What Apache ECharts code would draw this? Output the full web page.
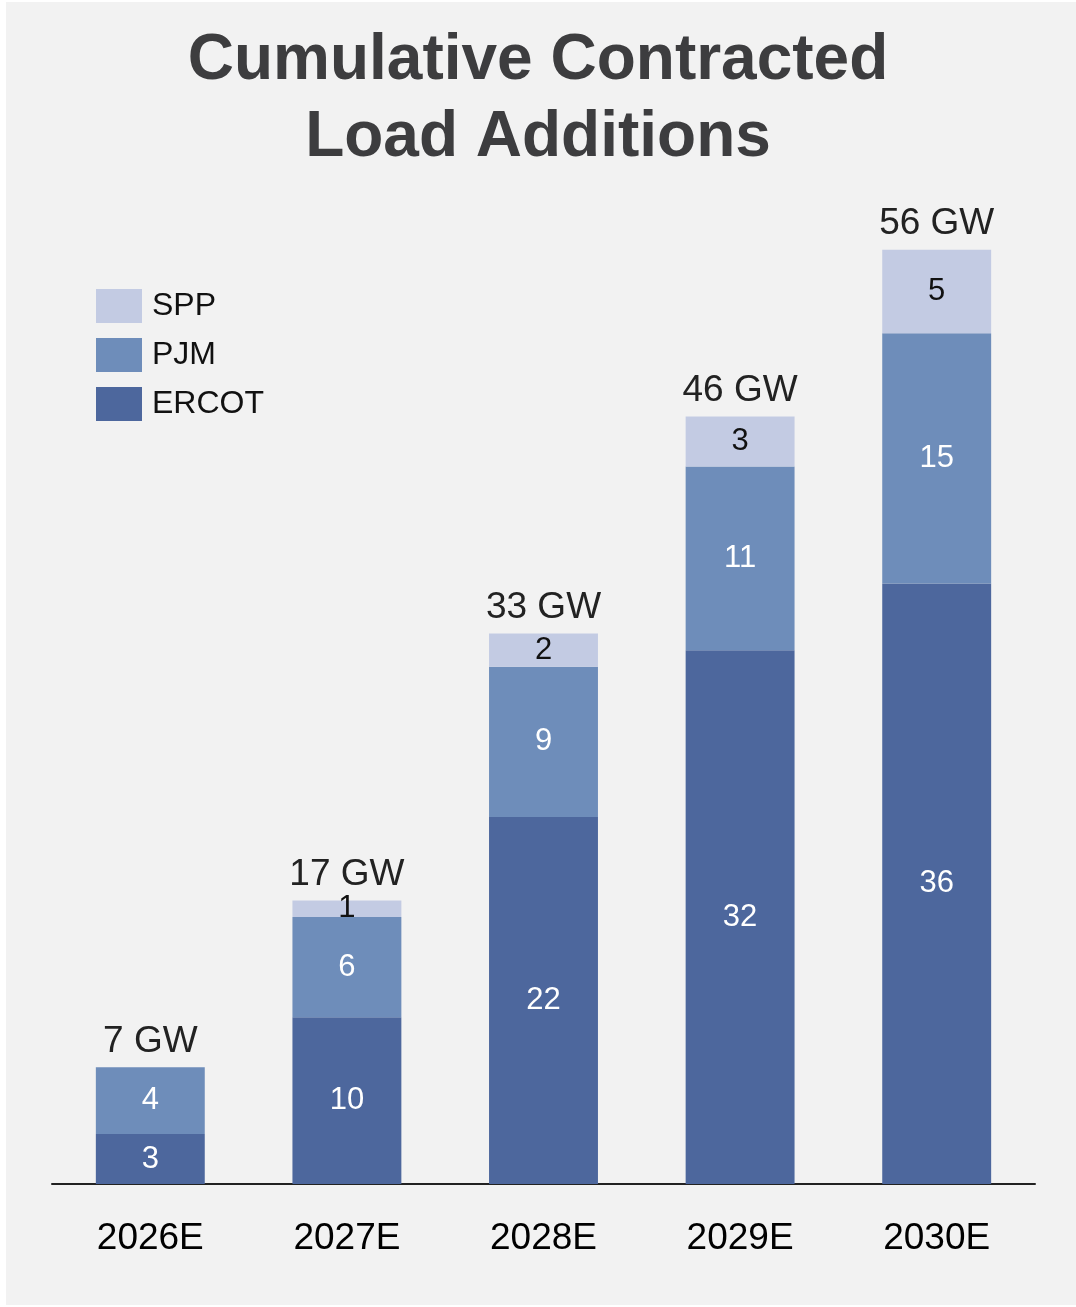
<!DOCTYPE html>
<html>
<head>
<meta charset="utf-8">
<title>Cumulative Contracted Load Additions</title>
<script src="https://cdn.jsdelivr.net/npm/echarts@6/dist/echarts.min.js"></script>
<style>
  html, body { margin: 0; padding: 0; background: #ffffff; }
  #panel { position: absolute; left: 6px; top: 2px; width: 1070px; height: 1303px; background: #f2f2f2; }
  #chart { position: absolute; left: 0; top: 0; width: 1076px; height: 1307px; }
</style>
</head>
<body>
<div id="panel"></div>
<div id="chart"></div>
<script>
// Contracted load (GW) by market, cumulative by year
const years = ['2026E', '2027E', '2028E', '2029E', '2030E'];
const ercot = [3, 10, 22, 32, 36];
const pjm = [4, 6, 9, 11, 15];
const spp = ['-', 1, 2, 3, 5];
const totals = [7, 17, 33, 46, 56];

const FONT = "'Liberation Sans', Arial, Helvetica, sans-serif";
const COLORS = { ERCOT: '#4d679d', PJM: '#6e8dba', SPP: '#c3cbe3' };

function segment(name, data, labelColor) {
  return {
    name: name,
    type: 'bar',
    stack: 'load',
    barWidth: '55.4%',
    data: data,
    itemStyle: { color: COLORS[name] },
    label: {
      show: true,
      position: 'inside',
      color: labelColor,
      fontFamily: FONT,
      fontSize: 31,
      formatter: p => (p.value === '-' || p.value === 0) ? '' : String(p.value)
    },
    emphasis: { disabled: true }
  };
}

const chart = echarts.init(document.getElementById('chart'), null, { renderer: 'canvas' });

chart.setOption({
  backgroundColor: 'transparent',
  animation: false,
  title: {
    text: 'Cumulative Contracted\nLoad Additions',
    left: 'center',
    top: 18,
    textStyle: {
      fontFamily: FONT,
      fontSize: 64,
      fontWeight: 'bold',
      color: '#3d3d3f',
      lineHeight: 77
    }
  },
  legend: {
    orient: 'vertical',
    left: 96,
    top: 289,
    padding: 0,
    itemWidth: 46,
    itemHeight: 34,
    itemGap: 15,
    icon: 'rect',
    data: ['SPP', 'PJM', 'ERCOT'],
    selectedMode: false,
    textStyle: {
      fontFamily: FONT,
      fontSize: 32,
      color: '#111111',
      padding: [0, 0, 0, 5]
    }
  },
  grid: { left: 52, right: 41, top: 183, bottom: 123, containLabel: false },
  xAxis: {
    type: 'category',
    data: years,
    axisLine: { show: true, lineStyle: { color: '#222222', width: 2 } },
    axisTick: { show: false },
    axisLabel: {
      fontFamily: FONT,
      fontSize: 37,
      color: '#000000',
      margin: 36
    }
  },
  yAxis: {
    type: 'value',
    min: 0,
    max: 60,
    show: false,
    splitLine: { show: false }
  },
  series: [
    segment('ERCOT', ercot, '#ffffff'),
    segment('PJM', pjm, '#ffffff'),
    segment('SPP', spp, '#111111'),
    {
      // zero-height cap carrying the total label at the top of each stack
      name: 'Total',
      type: 'bar',
      stack: 'load',
      barWidth: '55.4%',
      data: years.map(() => 0),
      itemStyle: { color: 'transparent' },
      label: {
        show: true,
        position: 'top',
        distance: 7,
        fontFamily: FONT,
        fontSize: 37,
        color: '#222222',
        formatter: p => totals[p.dataIndex] + ' GW'
      },
      emphasis: { disabled: true },
      tooltip: { show: false }
    }
  ]
});
</script>
</body>
</html>
